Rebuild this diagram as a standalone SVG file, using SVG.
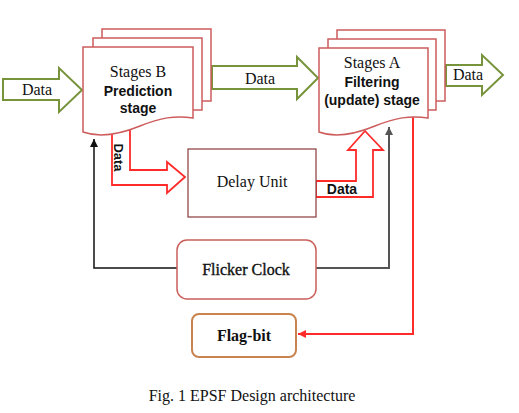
<svg xmlns="http://www.w3.org/2000/svg" width="519" height="413" viewBox="0 0 519 413">
<style>
.page{fill:#fff;stroke:#cd5c5c;stroke-width:1.5}
.green{fill:#fff;stroke:#77933c;stroke-width:2}
.redarrow{fill:#fff;stroke:#ff2a2a;stroke-width:1.8}
.serif{font-family:"Liberation Serif","Times New Roman",serif;fill:#111}
.sans{font-family:"Liberation Sans",Arial,sans-serif;font-weight:bold;fill:#111}
</style>
<defs>
<marker id="ahBlack" markerUnits="userSpaceOnUse" markerWidth="10" markerHeight="10" refX="8" refY="5" orient="auto">
<path d="M0,1 L8,5 L0,9 z" fill="#111"/>
</marker>
<marker id="ahGray" markerUnits="userSpaceOnUse" markerWidth="10" markerHeight="10" refX="8" refY="5" orient="auto">
<path d="M0,1 L8,5 L0,9 z" fill="#555"/>
</marker>
<marker id="ahRed" markerUnits="userSpaceOnUse" markerWidth="10" markerHeight="10" refX="8" refY="5" orient="auto">
<path d="M0,1 L8,5 L0,9 z" fill="#ff2a2a"/>
</marker>
</defs>
<rect width="519" height="413" fill="#fff"/>
<g id="connectors">
<polygon class="green" points="3,79 59,79 59,68 82,90 59,112 59,100 3,100"/>
<text class="serif" x="37" y="95" font-size="16" text-anchor="middle">Data</text>
<polygon class="green" points="212,66 297,66 297,57 318,78 297,99 297,89 212,89"/>
<text class="serif" x="260" y="84" font-size="16" text-anchor="middle">Data</text>
<polygon class="green" points="446,65 482,65 482,55 503,75 482,95 482,86 446,86"/>
<text class="serif" x="468" y="80" font-size="16" text-anchor="middle">Data</text>
<polygon class="redarrow" points="112,126 112,185 167,185 167,193 185,177 167,162 167,170 130,170 130,126"/>
<text class="sans" font-size="13" text-anchor="middle" transform="translate(114,157.5) rotate(90)">Data</text>
<polygon class="redarrow" points="316,181 356,181 356,150 348,150 365,131 383,150 373,150 373,197 316,197"/>
<text class="sans" x="342" y="194" font-size="14" text-anchor="middle">Data</text>
<polyline points="177,268 94,268 94,139" fill="none" stroke="#111" stroke-width="1.5" marker-end="url(#ahBlack)"/>
<polyline points="316,268 389,268 389,127" fill="none" stroke="#555" stroke-width="2" marker-end="url(#ahGray)"/>
<polyline points="413,112 413,334 298,334" fill="none" stroke="#ff2a2a" stroke-width="2" marker-end="url(#ahRed)"/>
</g>
<g id="stageB">
<rect class="page" x="102" y="29" width="109" height="72"/>
<rect class="page" x="93" y="38" width="109" height="72"/>
<path class="page" d="M83,47 H193 V118 C175,115 160,118 140,126 C118,135 100,138 83,132 Z"/>
<text class="serif" x="138" y="77" font-size="16" text-anchor="middle">Stages B</text>
<text class="sans" x="138" y="96" font-size="14" text-anchor="middle">Prediction</text>
<text class="sans" x="138" y="113" font-size="14" text-anchor="middle">stage</text>
</g>
<g id="stageA">
<rect class="page" x="337" y="30" width="108" height="71"/>
<rect class="page" x="328" y="39" width="108" height="71"/>
<path class="page" d="M319,48 H428 V118 C410,115 395,118 375,126 C353,135 335,138 319,132 Z"/>
<text class="serif" x="372" y="68" font-size="16" text-anchor="middle">Stages A</text>
<text class="sans" x="372" y="87" font-size="14" text-anchor="middle">Filtering</text>
<text class="sans" x="372" y="105" font-size="14" text-anchor="middle">(update) stage</text>
</g>
<g id="delay">
<rect x="188" y="149" width="128" height="68" fill="#fff" stroke="#8b3a3a" stroke-width="1.2"/>
<text class="serif" x="252" y="187" font-size="16" text-anchor="middle">Delay Unit</text>
</g>
<g id="flicker">
<rect x="177" y="240" width="139" height="59" rx="10" fill="#fff" stroke="#c9605c" stroke-width="1.5"/>
<text class="serif" x="246" y="275" font-size="16" stroke="#111" stroke-width="0.35" text-anchor="middle">Flicker Clock</text>
</g>
<g id="flagbit">
<rect x="192" y="314" width="104" height="43" rx="7" fill="#fff" stroke="#c8834f" stroke-width="2"/>
<text class="serif" x="244" y="341" font-size="16" font-weight="bold" text-anchor="middle">Flag-bit</text>
</g>
<text class="serif" x="252" y="401" font-size="16" text-anchor="middle">Fig. 1 EPSF Design architecture</text>
</svg>
